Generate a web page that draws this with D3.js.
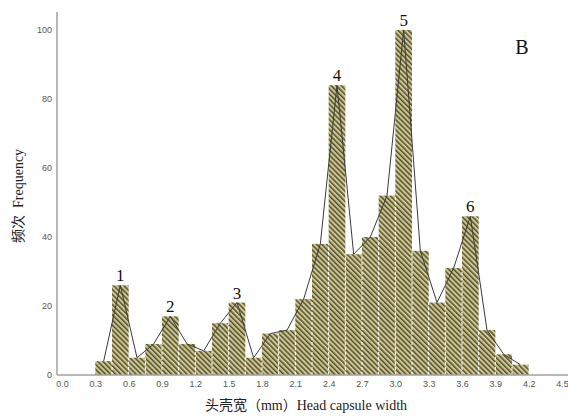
<!DOCTYPE html>
<html>
<head>
<meta charset="utf-8">
<script src="https://cdn.jsdelivr.net/npm/d3@7"></script>
<style>
  body { margin: 0; background: #fff; }
  .tick text { font-family: "Liberation Sans", Arial, sans-serif; font-size: 9px; fill: #555; }
</style>
</head>
<body>
<div id="chart"></div>
<script>
// bin start values (mm), bin width 0.15
var binStarts = [0.3, 0.45, 0.6, 0.75, 0.9, 1.05, 1.2, 1.35, 1.5, 1.65, 1.8, 1.95, 2.1,
                 2.25, 2.4, 2.55, 2.7, 2.85, 3.0, 3.15, 3.3, 3.45, 3.6, 3.75, 3.9, 4.05];
var binWidth = 0.15;
var counts = [4, 26, 5, 9, 17, 9, 7, 15, 21, 5, 12, 13, 22,
              38, 84, 35, 40, 52, 100, 36, 21, 31, 46, 13, 6, 3];
var xTicks = [0.0, 0.3, 0.6, 0.9, 1.2, 1.5, 1.8, 2.1, 2.4, 2.7, 3.0, 3.3, 3.6, 3.9, 4.2, 4.5];
var yTicks = [0, 20, 40, 60, 80, 100];
// peak labels: which bin they sit on
var peakNames = ["1", "2", "3", "4", "5", "6"];
var peakBins = [1, 4, 8, 14, 18, 22];

var svgWidth = 568;
var svgHeight = 417;

var margin = { top: 12, right: 0, bottom: 42, left: 57 };

var svg = d3.select("#chart")
  .append("svg")
  .attr("width", svgWidth)
  .attr("height", svgHeight);

// hatch pattern for the bars
var defs = svg.append("defs");
var pat = defs.append("pattern")
  .attr("id", "hatch")
  .attr("patternUnits", "userSpaceOnUse")
  .attr("width", 3.6)
  .attr("height", 3.6)
  .attr("patternTransform", "rotate(-45)");
pat.append("rect").attr("width", 3.6).attr("height", 3.6).attr("fill", "#cdc690");
pat.append("rect").attr("width", 1.5).attr("height", 3.6).attr("fill", "#545030");

// scales
var x = d3.scaleLinear().domain([0, 4.5]).range([62, 562]);
var y = d3.scaleLinear().domain([0, 100]).range([375, 30]);

var data = binStarts.map(function(s, i) {
  return { x0: s, x1: s + binWidth, mid: s + binWidth / 2, n: counts[i] };
});

// bars
svg.append("g").selectAll("rect")
  .data(data)
  .enter()
  .append("rect")
  .attr("x", d => x(d.x0))
  .attr("y", d => y(d.n))
  .attr("width", d => x(d.x1) - x(d.x0))
  .attr("height", d => y(0) - y(d.n))
  .attr("fill", "url(#hatch)");

// white dashed separators between bars
svg.append("g").selectAll("line")
  .data(data.slice(1))
  .enter()
  .append("line")
  .attr("x1", d => x(d.x0))
  .attr("x2", d => x(d.x0))
  .attr("y1", y(0))
  .attr("y2", (d, i) => y(Math.min(d.n, data[i].n)))
  .attr("stroke", "#fff")
  .attr("stroke-width", 1)
  .attr("stroke-dasharray", "3,2");

// frequency polygon
var line = d3.line()
  .x(d => x(d.mid))
  .y(d => y(d.n));

svg.append("path")
  .datum(data)
  .attr("d", line)
  .attr("fill", "none")
  .attr("stroke", "#3a3a3a")
  .attr("stroke-width", 1);

// axes
var bottomAxis = d3.axisBottom(x)
  .tickValues(xTicks)
  .tickFormat(d3.format(".1f"))
  .tickSize(0)
  .tickPadding(6);
var leftAxis = d3.axisLeft(y)
  .tickValues(yTicks)
  .tickSize(0)
  .tickPadding(5);

var xAxis = svg.append("g")
  .attr("transform", `translate(0, ${y(0)})`)
  .call(bottomAxis);
xAxis.select(".domain").remove();
xAxis.append("line")
  .attr("x1", margin.left).attr("x2", svgWidth)
  .attr("stroke", "#a0a0a0").attr("stroke-width", 1.5);

var yAxis = svg.append("g")
  .attr("transform", `translate(${margin.left}, 0)`)
  .call(leftAxis);
yAxis.select(".domain").remove();
yAxis.append("line")
  .attr("y1", margin.top).attr("y2", y(0))
  .attr("stroke", "#a0a0a0").attr("stroke-width", 1.5);

// peak labels
svg.append("g").selectAll("text")
  .data(peakBins)
  .enter()
  .append("text")
  .attr("x", d => x(data[d].mid))
  .attr("y", d => y(data[d].n) - 4)
  .attr("text-anchor", "middle")
  .style("font-family", "'Liberation Serif', 'Times New Roman', serif")
  .style("font-size", "17px")
  .attr("fill", "#111")
  .text((d, i) => peakNames[i]);

// panel letter
svg.append("text")
  .attr("x", 522)
  .attr("y", 54)
  .attr("text-anchor", "middle")
  .style("font-family", "'Liberation Serif', 'Times New Roman', serif")
  .style("font-size", "20px")
  .attr("fill", "#111")
  .text("B");

// axis titles
var xTitle = svg.append("text")
  .attr("x", 306)
  .attr("y", 410)
  .attr("text-anchor", "middle")
  .attr("fill", "#222")
  .style("font-size", "14px");
xTitle.append("tspan")
  .style("font-family", "'Noto Sans CJK SC', sans-serif")
  .text("头壳宽（");
xTitle.append("tspan")
  .style("font-family", "'Liberation Serif', serif")
  .text("mm");
xTitle.append("tspan")
  .style("font-family", "'Noto Sans CJK SC', sans-serif")
  .text("）");
xTitle.append("tspan")
  .style("font-family", "'Liberation Serif', serif")
  .text("Head capsule width");

var yTitle = svg.append("text")
  .attr("transform", "translate(23, 196) rotate(-90)")
  .attr("text-anchor", "middle")
  .attr("fill", "#222")
  .style("font-size", "14px");
yTitle.append("tspan")
  .style("font-family", "'Noto Sans CJK SC', sans-serif")
  .text("频次 ");
yTitle.append("tspan")
  .style("font-family", "'Liberation Serif', serif")
  .attr("dx", 4)
  .text("Frequency");
</script>
</body>
</html>
